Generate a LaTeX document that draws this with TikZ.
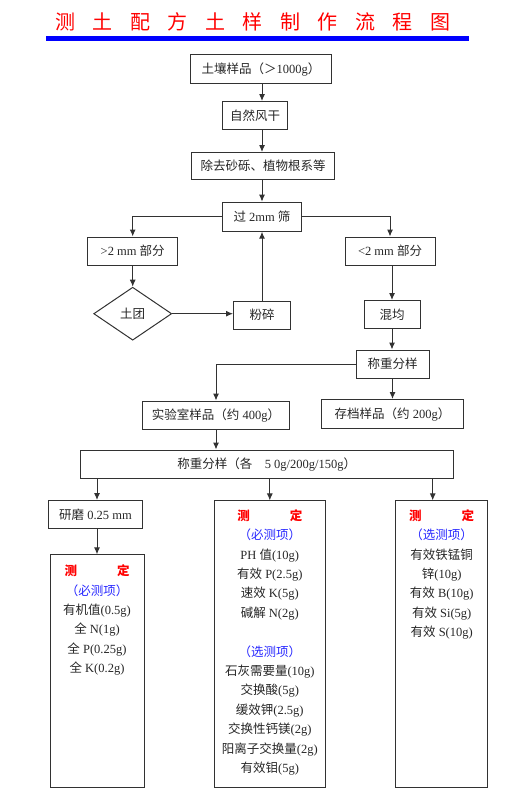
\documentclass[tikz,border=0pt]{standalone}
\usepackage{fontspec}
\setmainfont{Liberation Serif}
\newfontfamily\cjk{Noto Sans CJK SC}
\usetikzlibrary{arrows.meta,shapes.geometric}
\definecolor{linegray}{RGB}{50,50,50}
\definecolor{testblue}{RGB}{40,40,255}
% CJK characters switch to the CJK font by themselves
\XeTeXinterchartokenstate=1
\newXeTeXintercharclass\cjkcls
\newcommand\setcjkrange[2]{%
  \count255=#1\relax
  \loop
    \XeTeXcharclass\count255=\cjkcls
    \advance\count255 by 1
  \ifnum\count255<#2\relax\repeat}
\setcjkrange{"3000}{"3040}
\setcjkrange{"4E00}{"A000}
\setcjkrange{"FF00}{"FFF0}
\XeTeXinterchartoks 0 \cjkcls={\cjk}
\XeTeXinterchartoks 4095 \cjkcls={\cjk}
\XeTeXinterchartoks \cjkcls 0={\rmfamily}
\XeTeXinterchartoks \cjkcls 4095={\rmfamily}
\newcommand\gap{\hspace{17.5pt}}
\newcommand\testlist[3]{\parbox[c][#1][t]{#2}{\centering\fontsize{12.5}{19.4}\selectfont #3}}
\newcommand\testhead{\textcolor{red}{\bfseries 测\hspace{40pt}定}}
\begin{document}
\begin{tikzpicture}[x=1pt,y=-1pt,
  box/.style={draw=linegray, line width=1pt, rectangle, inner sep=0pt,
    font=\fontsize{12.5}{15}\selectfont, text=black!85},
  arr/.style={draw=linegray, line width=1pt, -{Latex[length=7pt,width=6pt]}}]
\useasboundingbox (0,0) rectangle (521,800);
% title
\node[text=red, font=\fontsize{20}{24}\selectfont] (title) at (252.5,22)
  {测\gap 土\gap 配\gap 方\gap 土\gap 样\gap 制\gap 作\gap 流\gap 程\gap 图};
\draw[blue, line width=5pt] (46,39) -- (469,39);
% preparing
\node[box, minimum width=141pt, minimum height=28pt] (soil) at (261,69) {土壤样品（＞1000g）};
\node[box, minimum width=65pt, minimum height=28pt] (dry) at (255,115.5) {自然风干};
\node[box, minimum width=143pt, minimum height=27pt] (clean) at (263,166) {除去砂砾、植物根系等};
\node[box, minimum width=79pt, minimum height=29pt] (sieve) at (262,216.7) {过 2mm 筛};
\node[box, minimum width=90pt, minimum height=28pt] (coarse) at (132.7,251) {>2 mm 部分};
\node[box, minimum width=90pt, minimum height=28pt] (fine) at (390,251) {<2 mm 部分};
\node[box, diamond, minimum width=78pt, minimum height=53pt] (clod) at (132.7,313.7) {土团};
\node[box, minimum width=57pt, minimum height=28pt] (crush) at (262,315) {粉碎};
\node[box, minimum width=56pt, minimum height=28pt] (mix) at (392,314.5) {混均};
\node[box, minimum width=73pt, minimum height=28pt] (weigh) at (392.5,364) {称重分样};
\node[box, minimum width=147pt, minimum height=28pt] (lab) at (216,415) {实验室样品（约 400g）};
\node[box, minimum width=142pt, minimum height=29pt] (store) at (392.5,414) {存档样品（约 200g）};
\node[box, minimum width=373pt, minimum height=28pt] (split) at (266.7,464) {称重分样（各　5 0g/200g/150g）};
\node[box, minimum width=94pt, minimum height=28pt] (grind) at (95.5,514.5) {研磨 0.25 mm};
% testing
\node[box] (testA) at (97,671.4) {\testlist{233pt}{94pt}{\vspace*{10pt}\testhead\\
  \textcolor{testblue}{（必测项）}\\
  有机值(0.5g)\\ 全 N(1g)\\ 全 P(0.25g)\\ 全 K(0.2g)}};
\node[box] (testB) at (269.8,644.4) {\testlist{287pt}{111pt}{\vspace*{8.5pt}\testhead\\
  \textcolor{testblue}{（必测项）}\\
  PH 值(10g)\\ 有效 P(2.5g)\\ 速效 K(5g)\\ 碱解 N(2g)\\[19.4pt]
  \textcolor{testblue}{（选测项）}\\
  石灰需要量(10g)\\ 交换酸(5g)\\ 缓效钾(2.5g)\\ 交换性钙镁(2g)\\ 阳离子交换量(2g)\\ 有效钼(5g)}};
\node[box] (testC) at (441.7,644.4) {\testlist{287pt}{92pt}{\vspace*{8.5pt}\testhead\\
  \textcolor{testblue}{（选测项）}\\
  有效铁锰铜\\ 锌(10g)\\ 有效 B(10g)\\ 有效 Si(5g)\\ 有效 S(10g)}};
% connectors
\draw[arr] (soil.south -| sieve) -- (dry.north -| sieve);
\draw[arr] (dry.south -| sieve) -- (clean.north -| sieve);
\draw[arr] (clean.south -| sieve) -- (sieve.north);
\draw[arr] (sieve.west) -| (coarse.north);
\draw[arr] (sieve.east) -| (fine.north);
\draw[arr] (coarse.south) -- (clod.north);
\draw[arr] (clod.east) -- (crush.west |- clod.east);
\draw[arr] (crush.north) -- (sieve.south);
\draw[arr] (fine.south -| mix) -- (mix.north);
\draw[arr] (mix.south) -- (weigh.north -| mix);
\draw[arr] (weigh.west) -| (lab.north);
\draw[arr] (weigh.south) -- (store.north -| weigh);
\draw[arr] (lab.south) -- (split.north -| lab);
\draw[arr] (split.south -| testA) -- (grind.north -| testA);
\draw[arr] (grind.south -| testA) -- (testA.north);
\draw[arr] (split.south -| testB) -- (testB.north);
\draw[arr] ([xshift=-9pt]testC.north |- split.south) -- ([xshift=-9pt]testC.north);
\end{tikzpicture}
\end{document}
